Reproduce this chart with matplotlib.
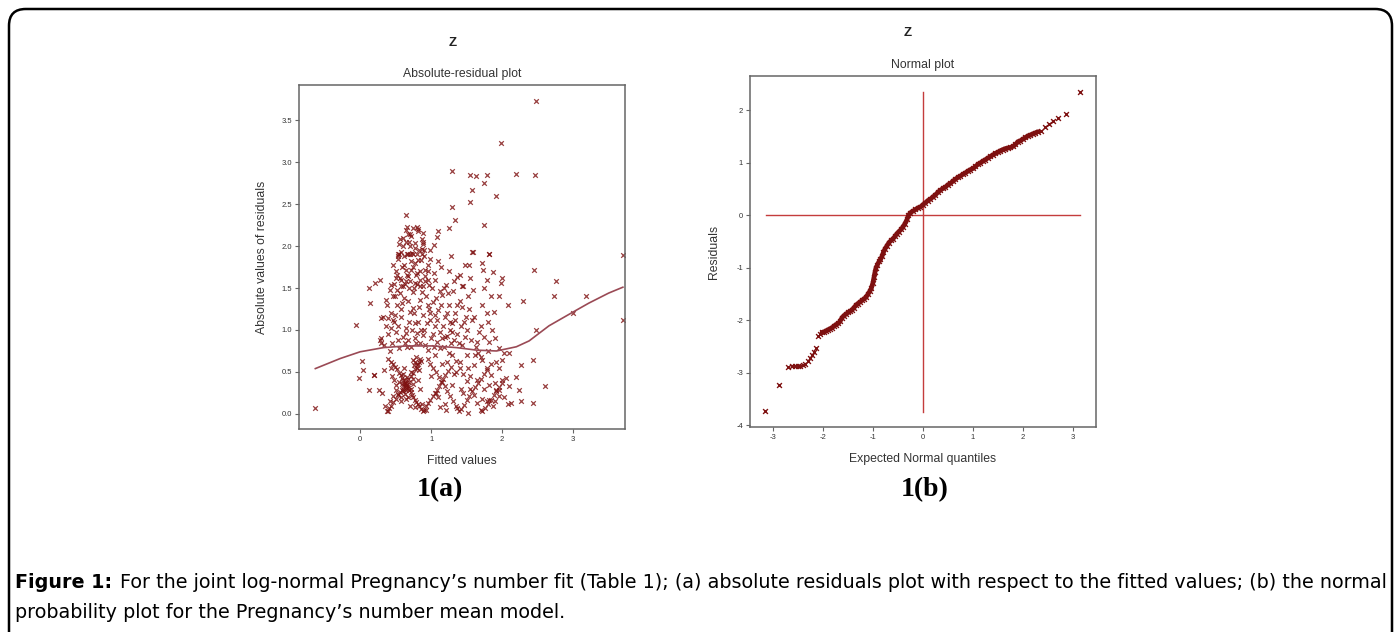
import matplotlib
matplotlib.use("Agg")
from matplotlib import pyplot as plt
from matplotlib.patches import FancyBboxPatch

plt.rcParams["axes.unicode_minus"] = False
plt.rcParams["font.family"] = ["Liberation Sans", "DejaVu Sans"]

# ---- panel (a): absolute residuals vs fitted values ----
fit_x = [
    # streak down-right
    0.40, 0.43, 0.46, 0.49, 0.52, 0.55, 0.57, 0.59, 0.61, 0.63, 0.65, 0.67, 0.69, 0.71, 0.73, 0.75, 0.77, 0.79, 0.81, 0.83, 0.86, 0.89,
    # streak up-right
    0.38, 0.41, 0.44, 0.47, 0.50, 0.53, 0.56, 0.59, 0.62, 0.65, 0.68, 0.71, 0.74, 0.77, 0.80, 0.83,
    # knot
    0.60, 0.62, 0.64, 0.66, 0.61, 0.65, 0.63, 0.67, 0.59, 0.76, 0.78, 0.80, 0.82, 0.84, 0.79, 0.83, 0.86, 0.74,
    # more streaks
    0.90, 0.93, 0.96, 0.99, 1.02, 1.05, 1.08, 1.11, 1.14, 1.17, 1.20, 1.24, 1.28,
    0.95, 0.99, 1.03, 1.07, 1.11, 1.15, 1.19, 1.23, 1.27, 1.31, 1.35, 1.39,
    1.42, 1.46, 1.50, 1.54, 1.58, 1.62, 1.66, 1.70, 1.74, 1.78,
    1.30, 1.35, 1.40, 1.45, 1.50, 1.55, 1.60, 1.65, 1.70,
    1.76, 1.80, 1.84, 1.88, 1.92, 1.96, 2.00, 2.05,
    1.66, 1.72, 1.78, 1.84, 1.90, 1.96, 2.02, 2.08,
    # lower left sparse
    0.02, 0.04, -0.02, 0.20, 0.12, 0.26, 0.35, 0.40, 0.42, 0.47, 0.31, 0.33, 0.19, -0.64,
    # middle band
    0.30, 0.33, 0.36, 0.40, 0.43, 0.45, 0.48, 0.50, 0.52, 0.55, 0.57, 0.60, 0.62, 0.65, 0.68, 0.70, 0.72, 0.75, 0.78, 0.80,
    0.83, 0.85, 0.88, 0.90, 0.93, 0.95, 0.98, 1.00, 1.02, 1.05, 1.08, 1.10, 1.12, 1.15, 1.18, 1.20, 1.23, 1.25, 1.28, 1.30,
    1.33, 1.36, 1.40, 1.43, 1.46, 1.50, 1.53, 1.56, 1.60, 1.63, 1.67, 1.70, 1.74, 1.78, 1.82, 1.86, 1.90, 1.95,
    0.32, 0.38, 0.42, 0.47, 0.53, 0.58, 0.63, 0.67, 0.73, 0.77, 0.82, 0.87, 0.92, 0.97, 1.03, 1.07, 1.13, 1.17, 1.22, 1.27,
    1.32, 1.37, 1.42, 1.48, 1.52, 1.58, 1.64, 1.72, 1.80, 1.88, -0.06, 0.14, 0.29, 0.39, 0.47, 0.28, 0.30,
    # upper cloud
    0.48, 0.50, 0.52, 0.54, 0.56, 0.58, 0.60, 0.62, 0.64, 0.66, 0.68, 0.70, 0.72, 0.74, 0.76, 0.78, 0.80, 0.82, 0.84, 0.86,
    0.88, 0.90, 0.92, 0.95, 0.98, 1.01, 1.04, 0.51, 0.55, 0.59, 0.63, 0.67, 0.71, 0.75, 0.79, 0.83, 0.87, 0.91, 0.96,
    0.53, 0.57, 0.61, 0.65, 0.69, 0.73, 0.77, 0.81, 0.85, 0.89, 0.13, 0.21, 0.28, 0.42, 0.49, 0.37, 0.44,
    0.65, 0.66, 0.80, 0.70, 0.56, 0.77, 0.69, 0.64, 0.54, 0.66, 0.70, 0.87, 0.80, 0.88, 0.88, 0.99,
    # upper sparse right
    2.48, 1.98, 1.29, 1.55, 1.63, 1.78, 2.19, 2.46, 1.75, 1.58, 1.91, 1.55, 1.29, 1.33, 1.74, 1.25, 1.10, 1.09, 1.04,
    1.59, 1.82, 1.14, 1.54, 1.58, 1.81, 1.72, 1.73, 1.87, 1.78, 2.00, 1.36, 1.21, 1.31, 1.45, 1.59, 1.75, 1.98, 1.96,
    1.85, 2.08, 2.29, 2.45,
    # lower right
    2.44, 2.48, 2.60, 2.43, 2.27, 2.13, 2.24, 2.10, 2.20, 2.27, 2.10, 2.00, 2.00, 1.92, 1.96, 1.82, 1.87, 1.71, 1.78,
    1.52, 1.36, 1.21, 0.93, 1.07,
    # far right
    2.76, 2.73, 3.18, 3.00, 3.70, 3.70,
    # extra fill: bottom
    0.45, 0.48, 0.51, 0.54, 0.57, 0.60, 0.63, 0.66, 0.69, 0.72, 0.75, 0.78, 0.81, 0.84, 0.87, 0.58, 0.62, 0.68, 0.72, 0.55,
    0.50, 0.44, 0.70, 0.74, 0.64,
    # extra fill: middle right
    1.00, 1.05, 1.10, 1.15, 1.20, 1.25, 1.30, 1.35, 1.40, 1.45, 1.50, 1.55, 1.60, 1.65, 1.70, 1.75, 1.80, 1.85, 1.90, 1.95,
    1.12, 1.22, 1.32, 1.42, 1.52, 1.62, 1.72, 1.82, 1.92, 2.02,
    # extra fill: middle band
    0.44, 0.49, 0.54, 0.59, 0.64, 0.69, 0.74, 0.79, 0.84, 0.89, 0.94, 0.99, 1.04, 1.09, 1.14, 1.19, 1.24, 1.29, 1.34, 1.39,
    1.44, 1.49, 0.56, 0.66, 0.76, 0.86, 0.96, 1.06, 1.16, 1.26,
    # extra fill: upper cloud
    0.47, 0.52, 0.57, 0.62, 0.67, 0.72, 0.77, 0.82, 0.87, 0.92, 0.97, 0.60, 0.70, 0.80, 0.90, 0.55, 0.65, 0.75, 0.85, 0.95,
    1.05, 1.10, 1.18, 1.25, 1.32, 1.40, 1.48, 1.55, 1.12, 1.28, 1.44,
]
abs_res = [
    0.66, 0.62, 0.60, 0.56, 0.53, 0.49, 0.46, 0.43, 0.40, 0.37, 0.34, 0.31, 0.28, 0.26, 0.23, 0.20, 0.17, 0.14, 0.12, 0.09, 0.06, 0.03,
    0.03, 0.07, 0.10, 0.14, 0.18, 0.22, 0.26, 0.29, 0.33, 0.37, 0.41, 0.45, 0.49, 0.54, 0.58, 0.62,
    0.30, 0.36, 0.31, 0.35, 0.27, 0.28, 0.40, 0.33, 0.36, 0.58, 0.62, 0.55, 0.60, 0.66, 0.68, 0.52, 0.63, 0.64,
    0.05, 0.09, 0.13, 0.17, 0.21, 0.25, 0.29, 0.33, 0.38, 0.42, 0.46, 0.51, 0.56,
    0.66, 0.60, 0.55, 0.50, 0.44, 0.38, 0.33, 0.27, 0.21, 0.15, 0.10, 0.04,
    0.06, 0.11, 0.16, 0.21, 0.27, 0.32, 0.37, 0.42, 0.47, 0.52,
    0.70, 0.63, 0.55, 0.47, 0.39, 0.30, 0.22, 0.13, 0.05,
    0.07, 0.12, 0.17, 0.22, 0.27, 0.32, 0.37, 0.43,
    0.72, 0.64, 0.55, 0.46, 0.37, 0.28, 0.20, 0.12,
    0.63, 0.52, 0.43, 0.46, 0.29, 0.29, 0.09, 0.03, 0.15, 0.21, 0.25, 0.52, 0.46, 0.07,
    0.90, 0.82, 1.05, 0.95, 1.20, 0.85, 1.10, 0.98, 1.30, 0.78, 1.15, 0.92, 1.38, 1.02, 0.88, 1.22, 0.80, 1.45, 1.08, 0.96,
    1.28, 0.84, 1.18, 1.00, 1.40, 0.76, 1.12, 0.90, 1.33, 1.05, 0.86, 1.24, 0.98, 1.42, 0.80, 1.15, 0.93, 1.30, 0.85, 1.08,
    1.20, 0.95, 1.35, 0.82, 1.10, 1.00, 1.25, 0.88, 1.15, 0.80, 0.98, 1.05, 0.92, 1.20, 0.86, 1.00, 0.90, 0.78,
    1.15, 1.30, 0.75, 1.40, 1.05, 1.25, 0.85, 1.35, 1.00, 0.90, 1.10, 1.45, 0.82, 1.25, 0.95, 1.38, 0.78, 1.05, 1.20, 1.00,
    0.88, 1.30, 1.05, 0.92, 1.40, 1.12, 0.86, 1.30, 1.10, 1.22, 1.06, 1.32, 1.14, 1.14, 1.12, 0.88, 0.84,
    1.55, 1.70, 1.48, 1.85, 1.62, 1.93, 1.52, 1.78, 2.05, 1.66, 1.90, 1.58, 2.12, 1.75, 1.50, 1.98, 1.68, 2.20, 1.60, 1.83,
    1.52, 1.95, 1.72, 1.60, 1.85, 1.50, 1.68, 1.62, 1.90, 1.75, 1.55, 2.15, 1.82, 2.22, 1.65, 1.95, 2.08, 1.58, 1.78,
    1.88, 1.60, 2.00, 1.72, 1.50, 1.92, 1.80, 2.18, 1.70, 2.02, 1.50, 1.56, 1.59, 1.48, 1.40, 1.36, 1.54,
    2.37, 2.23, 2.23, 2.14, 2.09, 2.04, 2.05, 2.19, 1.90, 1.90, 1.90, 1.90, 1.90, 2.16, 2.05, 1.95,
    3.73, 3.23, 2.89, 2.85, 2.83, 2.85, 2.86, 2.85, 2.75, 2.67, 2.60, 2.53, 2.47, 2.31, 2.25, 2.22, 2.18, 2.11, 2.01,
    1.93, 1.91, 1.75, 1.77, 1.93, 1.91, 1.80, 1.71, 1.69, 1.60, 1.62, 1.63, 1.54, 1.46, 1.52, 1.48, 1.50, 1.56, 1.40,
    1.40, 1.30, 1.34, 1.71,
    0.64, 1.00, 0.33, 0.13, 0.15, 0.13, 0.29, 0.33, 0.44, 0.58, 0.72, 0.64, 0.40, 0.29, 0.21, 0.17, 0.09, 0.03, 0.15,
    0.01, 0.07, 0.05, 0.05, 0.25,
    1.58, 1.41, 1.40, 1.20, 1.89, 1.12,
    0.45, 0.40, 0.35, 0.24, 0.20, 0.48, 0.24, 0.44, 0.38, 0.30, 0.36, 0.08, 0.40, 0.30, 0.12, 0.15, 0.55, 0.20, 0.50, 0.38,
    0.28, 0.55, 0.10, 0.42, 0.18,
    0.45, 0.70, 0.20, 0.60, 0.12, 0.72, 0.35, 0.50, 0.62, 0.25, 0.70, 0.45, 0.58, 0.40, 0.68, 0.30, 0.75, 0.60, 0.15, 0.55,
    0.08, 0.62, 0.48, 0.30, 0.55, 0.70, 0.18, 0.35, 0.62, 0.72,
    1.02, 1.18, 0.88, 1.32, 0.96, 1.10, 1.26, 0.84, 1.36, 0.94, 1.08, 1.20, 0.80, 1.12, 1.30, 0.92, 1.44, 0.98, 1.12, 0.84,
    1.28, 1.16, 1.44, 0.80, 1.20, 1.00, 1.30, 1.18, 0.90, 1.10,
    1.78, 1.66, 1.52, 1.88, 1.64, 1.72, 1.56, 1.84, 1.96, 1.64, 1.54, 2.10, 2.00, 1.55, 1.88, 2.02, 1.58, 1.90, 1.52, 1.70,
    1.60, 1.82, 1.50, 1.70, 1.58, 1.66, 1.78, 1.62, 1.46, 1.88, 1.52,
]
smooth_x = [-0.63, -0.28, 0.00, 0.33, 0.65, 1.03, 1.36, 1.64, 1.92, 2.20, 2.38, 2.66, 2.99, 3.22, 3.50, 3.70]
smooth_y = [0.54, 0.66, 0.74, 0.79, 0.81, 0.81, 0.79, 0.76, 0.75, 0.80, 0.87, 1.05, 1.21, 1.32, 1.44, 1.51]

# ---- panel (b): normal probability plot ----
q_x = [-3.15, -2.87, -2.70, -2.62, -2.56, -2.50, -2.45, -2.40, -2.35, -2.30, -2.26, -2.22, -2.18, -2.14, -2.10, -2.06, -2.02,
       -1.98, -1.94, -1.90, -1.86, -1.82, -1.78, -1.74, -1.70, -1.66, -1.62, -1.58, -1.54, -1.50, -1.46, -1.42, -1.38,
       -1.34, -1.30, -1.26, -1.22, -1.18, -1.14, -1.10, -1.06, -1.03, -1.00, -0.98, -0.96, -0.94, -0.91, -0.88, -0.85,
       -0.82, -0.79, -0.76, -0.72, -0.68, -0.64, -0.60, -0.56, -0.52, -0.48, -0.44, -0.40, -0.36, -0.32, -0.29, -0.25,
       -0.20, -0.15, -0.10, -0.05, 0.00, 0.05, 0.10, 0.15, 0.20, 0.25, 0.30, 0.35, 0.40, 0.45, 0.50, 0.55, 0.60, 0.65,
       0.70, 0.75, 0.80, 0.85, 0.90, 0.95, 1.00, 1.05, 1.10, 1.15, 1.20, 1.25, 1.30, 1.35, 1.40, 1.45, 1.50, 1.55, 1.60,
       1.65, 1.70, 1.75, 1.80, 1.85, 1.90, 1.95, 2.00, 2.05, 2.10, 2.15, 2.20, 2.25, 2.30, 2.36, 2.45, 2.52, 2.60, 2.70,
       2.87, 3.14]
q_y = [-3.73, -3.23, -2.89, -2.87, -2.86, -2.86, -2.86, -2.85, -2.84, -2.78, -2.72, -2.66, -2.60, -2.52, -2.30, -2.26, -2.23,
       -2.22, -2.20, -2.18, -2.16, -2.14, -2.11, -2.08, -2.06, -2.02, -1.95, -1.91, -1.88, -1.85, -1.83, -1.80, -1.76,
       -1.71, -1.68, -1.65, -1.62, -1.59, -1.56, -1.50, -1.44, -1.38, -1.28, -1.18, -1.08, -1.00, -0.94, -0.88, -0.84,
       -0.78, -0.70, -0.64, -0.58, -0.52, -0.48, -0.45, -0.40, -0.35, -0.31, -0.27, -0.22, -0.16, -0.08, 0.00, 0.05,
       0.08, 0.11, 0.14, 0.16, 0.20, 0.24, 0.28, 0.31, 0.35, 0.39, 0.44, 0.48, 0.51, 0.54, 0.58, 0.61, 0.65, 0.69,
       0.72, 0.75, 0.78, 0.81, 0.84, 0.87, 0.89, 0.93, 0.97, 1.00, 1.03, 1.06, 1.09, 1.12, 1.15, 1.18, 1.20, 1.23, 1.25,
       1.27, 1.28, 1.29, 1.31, 1.35, 1.40, 1.42, 1.45, 1.48, 1.51, 1.53, 1.55, 1.57, 1.59, 1.60, 1.68, 1.74, 1.79, 1.86,
       1.93, 2.34]
dense_from, dense_to = 16, 116  # index range where the points merge into a solid band

W, H = 1394, 632
fig = plt.figure(figsize=(W / 100, H / 100), dpi=100)
fig.patch.set_facecolor("white")

def box(l, t, r, b):
    return [l / W, 1 - b / H, (r - l) / W, (b - t) / H]

pt_col = "#7e1010"
line_col = "#c43c3c"
frame_col = "#666666"
txt_col = "#333333"

def style(ax):
    for s in ax.spines.values():
        s.set_color(frame_col)
        s.set_linewidth(1.1)
    ax.tick_params(length=3, width=0.8, color=frame_col, labelsize=5.5, labelcolor=txt_col, pad=2)

# panel (a)
ax1 = fig.add_axes(box(299, 85, 625, 429))
ax1.scatter(fit_x, abs_res, marker="x", s=11, linewidths=0.9, color=pt_col, alpha=0.8)
ax1.plot(smooth_x, smooth_y, color="#9a4a55", lw=1.2)
ax1.set_xlim(-0.86, 3.73)
ax1.set_ylim(-0.18, 3.92)
ax1.set_xticks([0, 1, 2, 3])
ax1.set_yticks([0.0, 0.5, 1.0, 1.5, 2.0, 2.5, 3.0, 3.5])
ax1.set_yticklabels(["0.0", "0.5", "1.0", "1.5", "2.0", "2.5", "3.0", "3.5"])
style(ax1)
ax1.set_xlabel("Fitted values", fontsize=8.8, color=txt_col, labelpad=9)
ax1.set_ylabel("Absolute values of residuals", fontsize=8.8, color=txt_col, labelpad=10)
ax1.set_title("Absolute-residual plot", fontsize=8.8, color=txt_col, pad=6)
fig.text(453 / W, 1 - 43 / H, "Z", fontsize=9.5, fontweight="bold", color="#222222", ha="center", va="center")

# panel (b)
ax2 = fig.add_axes(box(750, 76, 1096, 427))
ax2.plot([0, 0], [-3.74, 2.35], color=line_col, lw=1.0)
ax2.plot([-3.14, 3.14], [0, 0], color=line_col, lw=1.0)
ax2.plot(q_x[dense_from:dense_to], q_y[dense_from:dense_to], color=pt_col, lw=3.4, solid_capstyle="round", zorder=3)
ax2.scatter(q_x, q_y, marker="x", s=12, linewidths=1.0, color=pt_col, zorder=4)
ax2.set_xlim(-3.46, 3.46)
ax2.set_ylim(-4.03, 2.65)
ax2.set_xticks([-3, -2, -1, 0, 1, 2, 3])
ax2.set_yticks([-4, -3, -2, -1, 0, 1, 2])
style(ax2)
ax2.set_xlabel("Expected Normal quantiles", fontsize=8.8, color=txt_col, labelpad=9)
ax2.set_ylabel("Residuals", fontsize=8.8, color=txt_col, labelpad=12)
ax2.set_title("Normal plot", fontsize=8.8, color=txt_col, pad=6)
fig.text(908 / W, 1 - 33 / H, "Z", fontsize=9.5, fontweight="bold", color="#222222", ha="center", va="center")

# sub-figure labels
fig.text(440 / W, 1 - 490 / H, "1(a)", fontsize=20, fontweight="bold", ha="center", va="center",
         family="Liberation Serif")
fig.text(925 / W, 1 - 490 / H, "1(b)", fontsize=20, fontweight="bold", ha="center", va="center",
         family="Liberation Serif")

# caption
cap_font = ["DejaVu Sans"]
r = fig.canvas.get_renderer()
t1 = fig.text(15 / W, 1 - 582 / H, "Figure 1:", fontsize=13.8, fontweight="bold", va="center", family=cap_font)
bb = t1.get_window_extent(renderer=r)
fig.text((bb.x1 + 8) / W, 1 - 582 / H,
         "For the joint log-normal Pregnancy\u2019s number fit (Table 1); (a) absolute residuals plot with respect to "
         "the fitted values; (b) the normal", fontsize=13.8, va="center", family=cap_font)
fig.text(15 / W, 1 - 612 / H, "probability plot for the Pregnancy\u2019s number mean model.", fontsize=13.8,
         va="center", family=cap_font)

# rounded frame
frame = FancyBboxPatch((9 / W, -0.05), (1392 - 9) / W, 1 - 9 / H + 0.05,
                       boxstyle="round,pad=0,rounding_size=0.012",
                       transform=fig.transFigure, fill=False, edgecolor="black", lw=1.8, mutation_aspect=W / H)
fig.patches.append(frame)

fig.savefig("out.png", dpi=100)
